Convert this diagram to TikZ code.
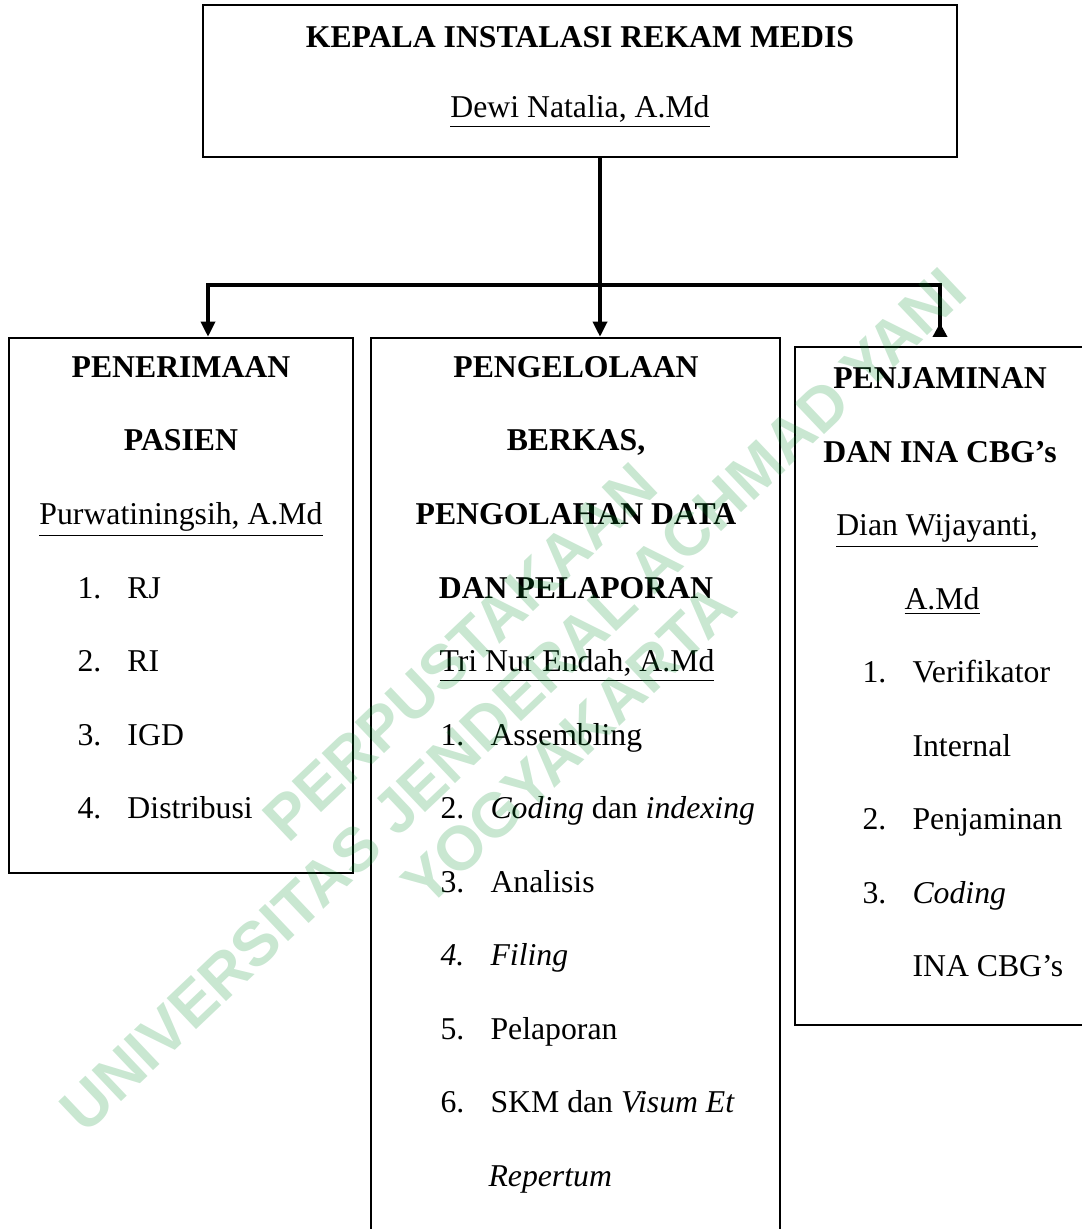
\documentclass[tikz,border=0pt]{standalone}
\usepackage{fontspec}
\setmainfont{Liberation Serif}
\newfontfamily\wmfont{Liberation Sans}
\usetikzlibrary{arrows.meta,positioning,fit}
\definecolor{cwm}{HTML}{008C28}
% number column of the lists
\newcommand{\no}[1]{\makebox[18.9pt][l]{#1}}
\tikzset{
  unit/.style={draw, line width=0.95pt, rectangle, inner sep=0pt},
  txt/.style={inner sep=0pt, anchor=base, font=\fontsize{12}{14}\selectfont},
  head/.style={txt, font=\fontsize{12}{14}\selectfont\bfseries},
  item/.style={txt, anchor=base west},
  link/.style={line width=1.3pt},
  pre/.style={link, -{Triangle[length=5.7pt,width=5.3pt]}},
  back/.style={link, -{Triangle[reversed,length=5.3pt,width=5.3pt]}},
  wm/.style={inner sep=0pt, font=\wmfont\bfseries\fontsize{23.5}{26}\selectfont, text=cwm, text opacity=0.21, rotate=43.5},
}
\begin{document}
\begin{tikzpicture}[x=0.378pt,y=-0.378pt]
\useasboundingbox (0,0) rectangle (1082,1229);
\clip (0,0) rectangle (1082,1229);
% boxes
\node[unit, fit={(203,5) (957,157)}] (kepala) {};
\node[unit, fit={(9,338) (353,873)}] (pen) {};
\node[unit, fit={(371,338) (780,1260)}] (olah) {};
\node[unit, fit={(795,347) (1100,1025)}] (jamin) {};
% top
\node[head] (k1) at (580,47.5) {KEPALA INSTALASI REKAM MEDIS};
\node[txt] (k2) at (580,118) {\underline{Dewi Natalia, A.Md}};
% penerimaan pasien
\node[head] (p1) at (181,377.5) {PENERIMAAN};
\node[head] (p2) at (181,451) {PASIEN};
\node[txt] (p3) at (181,524.5) {\underline{Purwatiningsih, A.Md}};
\node[item] (p4) at (77,598) {\no{1.}RJ};
\node[item] (p5) at (77,671.5) {\no{2.}RI};
\node[item] (p6) at (77,745) {\no{3.}IGD};
\node[item] (p7) at (77,818.5) {\no{4.}Distribusi};
% pengelolaan berkas
\node[head] (o1) at (576,377.5) {PENGELOLAAN};
\node[head] (o2) at (576,451) {BERKAS,};
\node[head] (o3) at (576,524.5) {PENGOLAHAN DATA};
\node[head] (o4) at (576,598) {DAN PELAPORAN};
\node[txt] (o5) at (577,671.5) {\underline{Tri Nur Endah, A.Md}};
\node[item] (o6) at (440,745) {\no{1.}Assembling};
\node[item] (o7) at (440,818.5) {\no{2.}\textit{Coding} dan \textit{indexing}};
\node[item] (o8) at (440,892) {\no{3.}Analisis};
\node[item] (o9) at (440,965.5) {\itshape\no{4.}Filing};
\node[item] (o10) at (440,1039) {\no{5.}Pelaporan};
\node[item] (o11) at (440,1112.5) {\no{6.}SKM dan \textit{Visum Et}};
\node[item] (o12) at (488,1186) {\textit{Repertum}};
% penjaminan
\node[head] (j1) at (940,388.5) {PENJAMINAN};
\node[head] (j2) at (940,462) {DAN INA CBG's};
\node[txt] (j3) at (937,535.5) {\underline{Dian Wijayanti,}};
\node[txt] (j4) at (942,609) {\underline{A.Md}};
\node[item] (j5) at (862,682.5) {\no{1.}Verifikator};
\node[item] (j6) at (912,756) {Internal};
\node[item] (j7) at (862,829.5) {\no{2.}Penjaminan};
\node[item] (j8) at (862,903) {\no{3.}\textit{Coding}};
\node[item] (j9) at (912,976.5) {INA CBG's};
% connectors
\coordinate (tap) at (600,157);
\coordinate (busL) at (208,285);
\coordinate (busM) at (600,285);
\coordinate (busR) at (940,285);
\coordinate (stubR) at (940,337);
\draw[link] (tap) -- (busM);
\draw[pre] (busM) -- (busL) -- (busL |- pen.north);
\draw[pre] (busM) -- (busM |- olah.north);
\draw[back] (busM) -- (busR) -- (stubR);
% watermark
\node[wm] (w1) at (460,652) {PERPUSTAKAAN};
\node[wm] (w2) at (513,700) {UNIVERSITAS JENDERAL ACHMAD YANI};
\node[wm] (w3) at (569,745) {YOGYAKARTA};
\end{tikzpicture}
\end{document}
